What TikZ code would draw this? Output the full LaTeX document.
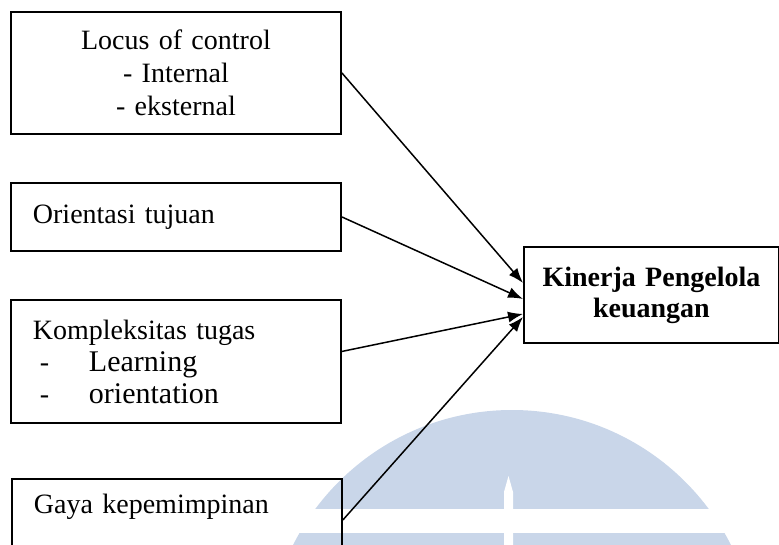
\documentclass[tikz,border=0pt]{standalone}
\usepackage{fontspec}
\setmainfont{Liberation Serif}
\usepackage{tikz}
\usetikzlibrary{arrows.meta,positioning}
\definecolor{wmblue}{RGB}{201,214,233}

\begin{document}
\begin{tikzpicture} [
    x = 1pt, y = -1pt,
    box/.style = { draw, line width = 1.9pt, anchor = north west, inner xsep = 22pt, inner ysep = 0,
                   text width = 286pt, font = \fontsize{28}{33}\selectfont },
    arrow/.style = { line width = 1.5pt, -{Latex[length=15pt,width=11pt]} }
    ]

    \useasboundingbox (0,0) rectangle (779,545);

    % watermark
    \fill [wmblue] (512,655) circle (245);
    \fill [white] (250,509) rectangle (779,533);
    \fill [white] (504,545) -- (504,492) -- (508.5,476) -- (513,492) -- (513,545) -- cycle;

    \node [box, minimum height = 122pt, align = center] (locus) at (10,11)
        {Locus of control\\ - Internal\\ - eksternal};
    \node [box, minimum height = 68pt, align = left] (orientasi) at (10,182) {Orientasi tujuan};
    \node [box, minimum height = 123pt, align = left, font = \fontsize{28}{32}\selectfont] (kompleksitas) at (10,299)
        {Kompleksitas tugas\\
         \makebox[56pt][l]{\hspace{7pt}-}{\fontsize{30}{32}\selectfont Learning}\\
         \makebox[56pt][l]{\hspace{7pt}-}{\fontsize{30}{32}\selectfont orientation}};
    \node [box, align = left, inner ysep = 10pt, text height = 25pt, text depth = 37pt] (gaya) at (11,478)
        {Gaya kepemimpinan};

    \node [box, minimum width = 255pt, minimum height = 96pt, inner xsep = 5pt, text width = 245pt, align = center,
           font = \fontsize{28}{31}\selectfont\bfseries] (kinerja) at (523,246)
        {Kinerja Pengelola\\ keuangan};

    \draw [arrow] (locus.east) -- ([yshift=12pt]kinerja.west);
    \draw [arrow] (orientasi.east) -- ([yshift=-4pt]kinerja.west);
    \draw [arrow] ([yshift=10pt]kompleksitas.east) -- ([yshift=-19pt]kinerja.west);
    \draw [arrow] (gaya.east) -- ([yshift=-22pt]kinerja.west);

\end{tikzpicture}
\end{document}
